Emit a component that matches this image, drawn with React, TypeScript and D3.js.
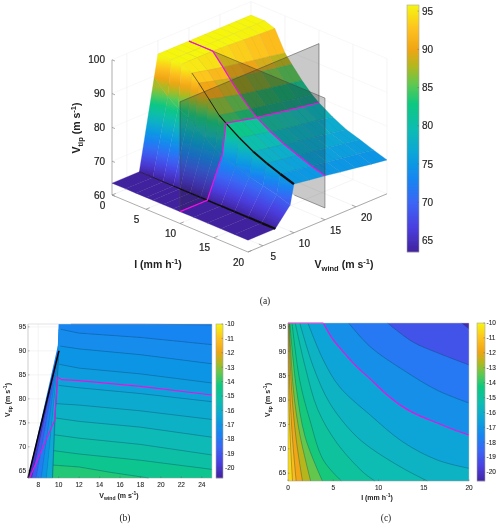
import React from "react";
import * as d3 from "d3";

// ---------- panel (a) surface ----------
const rowsI = [0, 2, 3.5, 5, 6, 7.5, 9, 10, 12, 14, 16, 18, 20];
const colsW = [2.6, 7, 9.4, 10, 12.5, 15, 17.5, 20, 22.5, 25];
const zW26 = [63.5, 63.5, 63.5, 63.5, 63.5, 63.5, 63.5, 63.5, 63.5, 63.5, 63.5, 63.5, 63.5];
const zW7 = [63.5, 63.5, 63.5, 63.5, 63.5, 63.5, 63.5, 63.5, 63.5, 63.5, 63.5, 63.5, 63.5];
const zW94 = [89.5, 85.5, 83.5, 82, 80.5, 78, 76, 75, 73.5, 72, 71, 70, 68.7];
const zW10 = [96, 96, 96, 94.6, 92.5, 89, 85.5, 84, 81.3, 79, 77.2, 75.7, 74.4];
const zW125 = [96, 96, 96, 93.5, 91.2, 87.7, 84.5, 82.9, 80.3, 78.1, 76.4, 75, 73.7];
const zW15 = [96, 96, 96, 92.5, 90, 86.5, 83.5, 81.8, 79.3, 77.3, 75.7, 74.2, 73];
const zW175 = [96, 96, 95.8, 91.6, 89.1, 85.6, 82.6, 81, 78.4, 76.4, 75, 73.5, 72.2];
const zW20 = [96, 96, 95.5, 90.7, 88.2, 84.7, 81.7, 80.1, 77.6, 75.6, 74.2, 72.7, 71.5];
const zW225 = [96, 96, 95.2, 89.9, 87.3, 83.8, 80.8, 79.3, 76.8, 74.8, 73.4, 72, 70.7];
const zW25 = [96, 96, 95, 89, 86.5, 83, 80, 78.5, 76, 74, 72.7, 71.3, 70];
const surfaceCols = [zW26, zW7, zW94, zW10, zW125, zW15, zW175, zW20, zW225, zW25];
const colourLiftAtW25 = [0, 0, 0, 0, 0, 0, 0.5, 1, 2, 3, 3.5, 4, 4.5];
const iTicks = [0, 5, 10, 15, 20];
const wTicks = [5, 10, 15, 20];
const zTicks = [60, 70, 80, 90, 100];
const barATicks = [65, 70, 75, 80, 85, 90, 95];

// ---------- panel (b) contours (Vwind, Vtip) ----------
const bC0 = [[11.2, 95.6], [18, 95.6], [25, 95.4]];
const bC1 = [[10.2, 94.5], [12, 93.7], [18, 92.8], [25, 91.3]];
const bC2 = [[10.15, 91], [12, 90.4], [18, 89.2], [25, 87.3]];
const bC3 = [[10.05, 87.2], [12, 86.4], [18, 85.2], [25, 83.3]];
const bC4 = [[10, 84.5], [12, 83.8], [18, 82.6], [25, 80.8]];
const bC5 = [[10, 82.8], [12, 82.3], [18, 81.1], [25, 79.4]];
const bC6 = [[9.75, 79], [12, 78.7], [18, 77.5], [25, 75.7]];
const bC7 = [[9.7, 76], [12, 75.3], [18, 74.1], [25, 72]];
const bC8 = [[9.6, 72.5], [12, 71.8], [18, 70.5], [25, 68.3]];
const bC9 = [[9.5, 69.2], [12, 68.5], [18, 67.2], [25, 65.3]];
const bC10 = [[9.45, 66.2], [12, 65.8], [15, 64.7], [18.8, 63.5]];
const bContours = [bC0, bC1, bC2, bC3, bC4, bC5, bC6, bC7, bC8, bC9, bC10];
const bBandValues = [-17.6, -17.3, -17.0, -16.7, -16.5, -16.2, -15.9, -15.5, -15.1, -14.6, -14.1];
const bBaseValue = -17.85;
const bPink = [[7.15, 63.5], [9.6, 75.5], [9.9, 84.5], [10.3, 84], [12, 83.8], [18, 82.6], [25, 80.8]];
const bWedgeFeet = [7, 7.4, 7.8, 8.3, 8.8, 9.4];
const bWedgeValues = [-20.0, -18.8, -17.8, -17, -16.3];
const bWTicks = [8, 10, 12, 14, 16, 18, 20, 22, 24];

// ---------- panel (c) contours (I, Vtip) ----------
const cM = [[0.03, 95.8], [0.1, 80], [0.3, 70], [0.5, 63.4]];
const cL = [[0.06, 95.8], [0.2, 82], [0.5, 72], [0.9, 63.4]];
const cK = [[0.1, 95.8], [0.4, 82], [0.9, 72], [1.6, 63.4]];
const cJ = [[0.15, 95.8], [0.6, 82], [1.3, 73], [2.5, 63.4]];
const cI = [[0.2, 95.8], [0.9, 82.7], [1.9, 72.4], [3.8, 63.4]];
const cH = [[0.44, 95.8], [1.3, 84], [2.4, 76], [3.9, 67.7], [5.9, 63.4]];
const cG = [[0.8, 95.8], [1.9, 86.8], [3.3, 78], [5.4, 71.2], [8.3, 65.2], [9.6, 63.4]];
const cF = [[1.3, 95.8], [2.8, 86.8], [4.6, 79.4], [7.2, 73.2], [9.1, 70.2], [12.7, 66], [15.4, 63.4]];
const cE = [[2.2, 95.8], [3.9, 88.2], [5.7, 82.7], [9.1, 76.9], [12.7, 71.4], [16.5, 67.7], [20, 66]];
const cD = [[3.9, 95.8], [4.9, 92.6], [6.1, 89.9], [7.5, 87], [9.1, 84.3], [10.8, 81.3], [12.7, 78.6], [14.5, 76.8], [16.5, 75.3], [18.2, 74], [20, 72.8]];
const cC = [[6.7, 95.8], [9.1, 90.9], [12.7, 86.2], [16.5, 82], [20, 79.4]];
const cB = [[11, 95.8], [13.8, 91.9], [16.5, 89.7], [20, 87.2]];
const cA = [[19.2, 95.8], [20, 94.6]];
const cContours = [cM, cL, cK, cJ, cI, cH, cG, cF, cE, cD, cC, cB, cA];
const cBandValues = [-11.2, -11.9, -12.6, -13.4, -14.2, -14.9, -15.4, -15.85, -16.4, -17.2, -17.95, -19.1, -20.4];
const cBaseValue = -10.6;
const cITicks = [0, 5, 10, 15, 20];
const vtipTicks = [65, 70, 75, 80, 85, 90, 95];
const dbTicks = [-10, -11, -12, -13, -14, -15, -16, -17, -18, -19, -20];

// ---------- colours ----------
const parulaStops: [number, string][] = [
  [0, "#41229e"], [0.1, "#4a3fe0"], [0.2, "#3a66f5"], [0.3, "#1587f0"], [0.4, "#0aa5d8"],
  [0.5, "#10bdb0"], [0.6, "#0fc880"], [0.68, "#60c850"], [0.75, "#b0b820"], [0.82, "#f0a515"],
  [0.9, "#fdc020"], [1, "#f5f510"],
];
const parula = d3.scaleLinear<string>()
  .domain(parulaStops.map((d) => d[0]))
  .range(parulaStops.map((d) => d[1]))
  .interpolate(d3.interpolateRgb)
  .clamp(true);
const colA = (z: number) => parula((z - 63.5) / (95.8 - 63.5));
const colDb = (v: number) => parula((v + 20.7) / 10.7);

// ---------- 3D projection (axonometric, built from linear scales) ----------
const xOfI = d3.scaleLinear().domain([0, 20]).range([0, 136]);
const yOfI = d3.scaleLinear().domain([0, 20]).range([0, 57]);
const xOfW = d3.scaleLinear().domain([2.6, 25]).range([0, 139]);
const yOfW = d3.scaleLinear().domain([2.6, 25]).range([0, -58.2]);
const yOfZ = d3.scaleLinear().domain([60, 100]).range([0, -135.2]);
const P = (I: number, W: number, Z: number): [number, number] => [
  112 + xOfI(I) + xOfW(W),
  195 + yOfI(I) + yOfW(W) + yOfZ(Z),
];
const poly = (pts: [number, number][] | number[][]) =>
  "M" + pts.map((p) => `${p[0].toFixed(2)},${p[1].toFixed(2)}`).join("L") + "Z";

const iRow10 = rowsI.indexOf(10);
const jCol15 = colsW.indexOf(15);
const liftAt = (i: number, W: number) => (W <= 10 ? 0 : (colourLiftAtW25[i] * (W - 10)) / 15);

function surfaceCells(i0: number, i1: number, j0: number, j1: number) {
  const out: React.ReactNode[] = [];
  for (let i = i0; i < i1; i++) {
    for (let j = j1 - 1; j >= j0; j--) {
      const I0 = rowsI[i], I1 = rowsI[i + 1], W0 = colsW[j], W1 = colsW[j + 1];
      const z00 = surfaceCols[j][i], z10 = surfaceCols[j][i + 1], z01 = surfaceCols[j + 1][i], z11 = surfaceCols[j + 1][i + 1];
      const ramp = j === 1 || j === 2;
      const corners = poly([P(I0, W0, z00), P(I1, W0, z10), P(I1, W1, z11), P(I0, W1, z01)]);
      if (ramp) {
        // colour runs along the face of the ramp, constant across each facet
        const Im = (I0 + I1) / 2;
        const zLow = (z00 + z10) / 2, zHigh = (z01 + z11) / 2;
        const a = P(Im, W0, zLow), b = P(Im, W1, zHigh);
        const id = `ramp${i}-${j}`;
        out.push(
          <linearGradient key={id} id={id} gradientUnits="userSpaceOnUse" x1={a[0]} y1={a[1]} x2={b[0]} y2={b[1]}>
            {d3.range(0, 1.001, 0.1).map((t) => (
              <stop key={t} offset={t} stopColor={colA(zLow + (zHigh - zLow) * t)} />
            ))}
          </linearGradient>
        );
        out.push(<path key={`s${i}-${j}`} d={corners} fill={`url(#${id})`} stroke={`url(#${id})`} strokeWidth={0.3} />);
      } else {
        const mean = (z00 + z10 + z01 + z11) / 4;
        const c = colA(mean + (liftAt(i, W0) + liftAt(i, W1)) / 2);
        out.push(<path key={`s${i}-${j}`} d={corners} fill={c} stroke={c} strokeWidth={0.3} />);
      }
      if (j >= 3) {
        const a = P(I0, (W0 + W1) / 2, (z00 + z01) / 2), b = P(I1, (W0 + W1) / 2, (z10 + z11) / 2);
        out.push(<line key={`m${i}-${j}`} x1={a[0]} y1={a[1]} x2={b[0]} y2={b[1]} stroke="#000" strokeOpacity={0.07} strokeWidth={0.4} />);
      }
      out.push(
        <path key={`g${i}-${j}`} d={corners}
          fill="none" stroke="#000" strokeOpacity={j === 0 ? 0.03 : j < 3 ? 0.06 : 0.09} strokeWidth={0.4} />
      );
    }
  }
  return out;
}

const planeFill = "rgba(30,30,30,0.24)";
const planeI = (W0: number, W1: number, key: string) => (
  <path key={key} d={poly([P(10, W0, 63.5), P(10, W1, 63.5), P(10, W1, 96), P(10, W0, 96)])} fill={planeFill} />
);
const planeW = (I0: number, I1: number, key: string) => (
  <path key={key} d={poly([P(I0, 15, 63.5), P(I1, 15, 63.5), P(I1, 15, 96), P(I0, 15, 96)])} fill={planeFill} />
);

const font = "'Liberation Sans', Arial, sans-serif";
const ink = "#222";

function Label3({ x, y, base, sub, unit, sup, size, rotate, weight = 700 }: any) {
  const small = size * 0.72;
  return (
    <text x={x} y={y} fontFamily={font} fontSize={size} fontWeight={weight} fill={ink} textAnchor="middle"
      transform={rotate ? `rotate(-90 ${x} ${y})` : undefined}>
      <tspan>{base}</tspan>
      {sub ? <tspan fontSize={small} dy={size * 0.28}>{sub}</tspan> : null}
      <tspan dy={sub ? -size * 0.28 : 0}>{` (${unit}`}</tspan>
      <tspan fontSize={small} dy={-size * 0.4}>-1</tspan>
      <tspan dy={size * 0.4}>)</tspan>
    </text>
  );
}

function Colorbar({ x, w, y0, y1, dom, ticks, color, size, labelX }: any) {
  const s = d3.scaleLinear().domain(dom).range([y1, y0]);
  const n = Math.round(y1 - y0);
  return (
    <g>
      {d3.range(n).map((k) => {
        const yy = y0 + k;
        return <rect key={k} x={x} y={yy} width={w} height={1.2} fill={color(s.invert(yy + 0.5))} />;
      })}
      <rect x={x} y={y0} width={w} height={y1 - y0} fill="none" stroke="#a8a8a0" strokeWidth={0.6} />
      {ticks.map((t: number) => (
        <g key={t}>
          <line x1={x + w - 1.5} x2={x + w} y1={s(t)} y2={s(t)} stroke="#555" strokeWidth={0.4} />
          <text x={labelX} y={s(t) + size * 0.36} fontFamily={font} fontSize={size} fill={ink}
            stroke={ink} strokeWidth={size > 8 ? 0.15 : 0.08}>{t}</text>
        </g>
      ))}
    </g>
  );
}

function PanelA() {
  const wall = "#ececec";
  const Wmin = 2.6, Wmax = 25;
  return (
    <g>
      {/* back walls and floor grid */}
      <g stroke={wall} strokeWidth={0.6} fill="none">
        {zTicks.map((z) => (
          <path key={z} d={"M" + [P(0, Wmin, z), P(0, Wmax, z), P(20, Wmax, z)].map((p) => p.join(",")).join("L")} strokeOpacity={0.6} />
        ))}
        {wTicks.map((w) => (
          <g key={w}>
            <path d={"M" + [P(0, w, 60), P(0, w, 100)].map((p) => p.join(",")).join("L")} />
            <path d={"M" + [P(0, w, 60), P(20, w, 60)].map((p) => p.join(",")).join("L")} />
          </g>
        ))}
        {iTicks.map((t) => (
          <g key={t}>
            <path d={"M" + [P(t, Wmax, 60), P(t, Wmax, 100)].map((p) => p.join(",")).join("L")} />
            <path d={"M" + [P(t, Wmin, 60), P(t, Wmax, 60)].map((p) => p.join(",")).join("L")} />
          </g>
        ))}
      </g>
      {/* axes */}
      <g stroke="#8a8a8a" strokeWidth={0.7} fill="none">
        <path d={"M" + [P(0, Wmin, 60), P(0, Wmin, 100)].map((p) => p.join(",")).join("L")} />
        <path d={"M" + [P(0, Wmin, 60), P(20, Wmin, 60), P(20, Wmax, 60)].map((p) => p.join(",")).join("L")} />
        {zTicks.map((z) => {
          const p = P(0, Wmin, z);
          return <line key={z} x1={p[0]} y1={p[1]} x2={p[0] + 3} y2={p[1] + 1.2} />;
        })}
        {iTicks.map((t) => {
          const a = P(t, Wmin, 60), b = P(t, Wmin + 0.6, 60);
          return <line key={t} x1={a[0]} y1={a[1]} x2={b[0]} y2={b[1]} />;
        })}
        {wTicks.map((w) => {
          const a = P(20, w, 60), b = P(19.4, w, 60);
          return <line key={w} x1={a[0]} y1={a[1]} x2={b[0]} y2={b[1]} />;
        })}
      </g>
      {/* tick labels */}
      <g fontFamily={font} fontSize={10} fill={ink} stroke={ink} strokeWidth={0.2}>
        {zTicks.map((z) => {
          const p = P(0, Wmin, z);
          return <text key={z} x={105} y={p[1] + 3.5} textAnchor="end">{z}</text>;
        })}
        {iTicks.map((t) => {
          const p = P(t, Wmin, 60);
          return <text key={t} x={p[0] - 9.5} y={p[1] + 13.5} textAnchor="middle">{t}</text>;
        })}
        {wTicks.map((w) => {
          const p = P(20, w, 60);
          return <text key={w} x={p[0] + 10.5} y={p[1] + 14} textAnchor="middle">{w}</text>;
        })}
      </g>

      {/* back-to-front: quadrants split by the two planes */}
      {surfaceCells(0, iRow10, jCol15, colsW.length - 1)}
      {planeI(15, 25, "pi-back")}
      {planeW(0, 10, "pw-back")}
      {surfaceCells(0, iRow10, 0, jCol15)}
      {surfaceCells(iRow10, rowsI.length - 1, jCol15, colsW.length - 1)}
      {planeI(2.6, 15, "pi-front")}
      {planeW(10, 20, "pw-front")}
      {surfaceCells(iRow10, rowsI.length - 1, 0, jCol15)}

      {/* plane outlines */}
      <g stroke="#444" strokeWidth={0.5} fill="none">
        <path d={"M" + [P(10, 2.6, 63.5), P(10, 2.6, 96), P(10, 25, 96), P(10, 25, zW25[iRow10])].map((p) => p.join(",")).join("L")} />
        <path d={"M" + [P(0, 15, 96), P(20, 15, 96), P(20, 15, 63.5), P(15.5, 15, 63.5)].map((p) => p.join(",")).join("L")} />
      </g>

      {/* black stall lines, thicker toward the viewer */}
      {rowsI.slice(0, -1).map((I, i) => {
        const a = P(I, 7, 63.5), b = P(rowsI[i + 1], 7, 63.5);
        return <line key={`k7${i}`} x1={a[0]} y1={a[1]} x2={b[0]} y2={b[1]} stroke="#111" strokeWidth={0.6 + (I / 20) * 2} />;
      })}
      {rowsI.slice(3, -1).map((I, i) => {
        const a = P(I, 10, zW10[i + 3]), b = P(rowsI[i + 4], 10, zW10[i + 4]);
        return <line key={`k10${i}`} x1={a[0]} y1={a[1]} x2={b[0]} y2={b[1]} stroke="#111" strokeWidth={0.5 + ((I - 5) / 15) * 2.2} />;
      })}

      {/* magenta sections */}
      <path d={d3.line()(surfaceCols.map((col, j) => P(10, colsW[j], col[iRow10]))) as string} fill="none" stroke="#f010e0" strokeWidth={1.2} />
      <path d={d3.line()(rowsI.map((I, i) => P(I, 15, zW15[i]))) as string} fill="none" stroke="#f010e0" strokeWidth={1.2} />

      <Colorbar x={407} w={12} y0={5} y1={252} dom={[63.5, 95.8]} ticks={barATicks} color={colA} size={10} labelX={422} />

      <Label3 x={80} y={128} base="V" sub="tip" unit="m s" size={10.5} rotate />
      <Label3 x={158} y={268} base="I" unit="mm h" size={10.5} />
      <Label3 x={344} y={268} base="V" sub="wind" unit="m s" size={10.5} />
      <text x={265} y={304} fontFamily="'Liberation Serif', serif" fontSize={9.5} fill="#222" textAnchor="middle">(a)</text>
    </g>
  );
}

const tickText = { fontFamily: font, fontSize: 6.5, fill: ink, stroke: ink, strokeWidth: 0.08 } as const;

function PanelB() {
  const x = d3.scaleLinear().domain([7, 25]).range([28, 212]);
  const y = d3.scaleLinear().domain([63.5, 95.6]).range([478, 324]);
  const line = d3.line<number[]>().x((d) => x(d[0])).y((d) => y(d[1]));
  const [yb, yt] = y.domain();
  return (
    <g>
      <g stroke="#eaeaea" strokeWidth={0.5}>
        {[8, 10].map((t) => <line key={t} x1={x(t)} x2={x(t)} y1={324} y2={478} />)}
        {[70, 75, 80, 85, 90, 95].map((t) => <line key={t} x1={28} x2={80} y1={y(t)} y2={y(t)} />)}
      </g>
      <path d={`M${x(7)},${y(yb)}L${x(10.4)},${y(yt)}L${x(25)},${y(yt)}L${x(25)},${y(yb)}Z`} fill={colDb(bBaseValue)} />
      {bContours.map((c, i) => {
        const p0 = c[0];
        return <path key={i} d={(line(c as any) as string) + `L${x(25)},${y(yb)}L${x(9.4)},${y(yb)}L${x(Math.min(p0[0], 10))},${y(p0[1])}Z`} fill={colDb(bBandValues[i])} />;
      })}
      {bWedgeFeet.slice(0, -1).map((w, i) => (
        <path key={i} d={poly([[x(w), y(yb)], [x(bWedgeFeet[i + 1]), y(yb)], [x(10.02), y(90)]])}
          fill={colDb(bWedgeValues[i])} stroke="#0a3c64" strokeOpacity={0.35} strokeWidth={0.3} />
      ))}
      {bContours.map((c, i) => (
        i === 4 ? null : <path key={i} d={line(c as any) as string} fill="none" stroke="#0b3d5e" strokeOpacity={0.7} strokeWidth={0.5} />
      ))}
      <path d={line([[9.4, yb], [9.6, 75], [10.02, 90]]) as string} fill="none" stroke="#0b3d5e" strokeOpacity={0.7} strokeWidth={0.5} />
      <path d={line([[7, yb], [10.02, 90]]) as string} fill="none" stroke="#000" strokeWidth={1.5} />
      <path d={line(bPink) as string} fill="none" stroke="#f010e0" strokeWidth={1.1} />
      <path d={`M28,324H212V478`} fill="none" stroke="#c4c4c4" strokeWidth={0.5} />
      <path d={`M28,324V478H212`} fill="none" stroke="#999" strokeWidth={0.5} />
      {vtipTicks.map((t) => (
        <g key={t}>
          <line x1={28} x2={29.5} y1={y(t)} y2={y(t)} stroke="#555" strokeWidth={0.4} />
          <text {...tickText} x={26} y={y(t) + 2.3} textAnchor="end">{t}</text>
        </g>
      ))}
      {bWTicks.map((t) => (
        <g key={t}>
          <line x1={x(t)} x2={x(t)} y1={478} y2={476.5} stroke="#555" strokeWidth={0.4} />
          <text {...tickText} x={x(t)} y={487} textAnchor="middle">{t}</text>
        </g>
      ))}
      <Colorbar x={216} w={7} y0={324} y1={478} dom={[-20.7, -10]} ticks={dbTicks} color={colDb} size={6.5} labelX={225} />
      <Label3 x={10} y={400} base="V" sub="tip" unit="m s" size={7} rotate />
      <Label3 x={119} y={498} base="V" sub="wind" unit="m s" size={7} />
      <text x={125} y={521} fontFamily="'Liberation Serif', serif" fontSize={9.5} fill="#222" textAnchor="middle">(b)</text>
    </g>
  );
}

function PanelC() {
  const x = d3.scaleLinear().domain([0, 20]).range([288, 469]);
  const y = d3.scaleLinear().domain([63.4, 95.8]).range([481, 323]);
  const line = d3.line<number[]>().x((d) => x(d[0])).y((d) => y(d[1])).curve(d3.curveCatmullRom.alpha(0.5));
  return (
    <g>
      <rect x={288} y={323} width={181} height={158} fill={colDb(cBaseValue)} />
      {cContours.map((c, i) => (
        <path key={i} d={(line(c as any) as string) + `L${x(20)},${y(63.4)}L${x(20)},${y(95.8)}Z`} fill={colDb(cBandValues[i])} />
      ))}
      {cContours.map((c, i) => (
        c === cD ? null : <path key={i} d={line(c as any) as string} fill="none" stroke="#0b3d4e" strokeOpacity={0.65} strokeWidth={0.5} />
      ))}
      <path d={line(cD as any) as string} fill="none" stroke="#f010e0" strokeWidth={1.2} />
      <path d={`M${x(0)},${y(95.8)}H${x(cD[0][0])}`} stroke="#f010e0" strokeWidth={1} fill="none" />
      <path d="M288,323H469V481" fill="none" stroke="#c4c4c4" strokeWidth={0.5} />
      <path d="M288,323V481H469" fill="none" stroke="#999" strokeWidth={0.5} />
      {vtipTicks.map((t) => (
        <g key={t}>
          <line x1={288} x2={289.5} y1={y(t)} y2={y(t)} stroke="#555" strokeWidth={0.4} />
          <text {...tickText} x={286} y={y(t) + 2.3} textAnchor="end">{t}</text>
        </g>
      ))}
      {cITicks.map((t) => (
        <g key={t}>
          <line x1={x(t)} x2={x(t)} y1={481} y2={479.5} stroke="#555" strokeWidth={0.4} />
          <text {...tickText} x={x(t)} y={490} textAnchor="middle">{t}</text>
        </g>
      ))}
      <Colorbar x={477} w={8} y0={323} y1={481} dom={[-20.6, -10]} ticks={dbTicks} color={(v: number) => colDb(v)} size={6.5} labelX={486.5} />
      <Label3 x={270} y={400} base="V" sub="tip" unit="m s" size={7} rotate />
      <Label3 x={377} y={500} base="I" unit="mm h" size={7} />
      <text x={386} y={521} fontFamily="'Liberation Serif', serif" fontSize={9.5} fill="#222" textAnchor="middle">(c)</text>
    </g>
  );
}

export default function App() {
  return (
    <svg width={500} height={527} viewBox="0 0 500 527"
      style={{ position: "absolute", left: 0, top: 0, background: "#fff" }}>
      <defs>
        <filter id="soft" x="0" y="0" width="500" height="527" filterUnits="userSpaceOnUse">
          <feGaussianBlur stdDeviation="0.35" />
        </filter>
      </defs>
      <rect width={500} height={527} fill="#fff" />
      <g filter="url(#soft)">
        <rect width={500} height={527} fill="#fff" />
        <PanelA />
        <PanelB />
        <PanelC />
      </g>
    </svg>
  );
}
